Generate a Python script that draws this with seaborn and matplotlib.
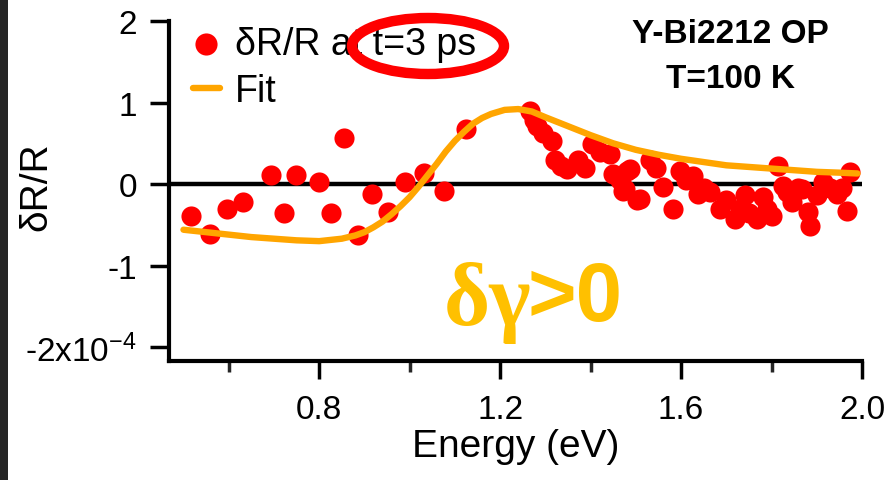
import matplotlib
matplotlib.use("Agg")
import matplotlib.pyplot as plt
from matplotlib.patches import Ellipse, Rectangle
import pandas as pd
import seaborn as sns

# --- data (units of 1e-4) ---
energy_pts = [0.516, 0.558, 0.596, 0.631, 0.694, 0.723, 0.748, 0.799, 0.826, 0.854,
              0.885, 0.917, 0.952, 0.990, 1.032, 1.077, 1.125,
              1.266, 1.274, 1.281, 1.295, 1.314, 1.322, 1.335, 1.347, 1.373, 1.388,
              1.403, 1.421, 1.443, 1.450, 1.465, 1.472, 1.480, 1.487, 1.476, 1.502,
              1.509, 1.531, 1.545, 1.560, 1.582, 1.598, 1.612, 1.627, 1.638, 1.650,
              1.664, 1.686, 1.700, 1.719, 1.730, 1.741, 1.750, 1.767, 1.782, 1.790,
              1.800, 1.814, 1.825, 1.835, 1.845, 1.858, 1.867, 1.881, 1.885, 1.900,
              1.914, 1.930, 1.944, 1.955, 1.966, 1.973]
dR_pts = [-0.39, -0.61, -0.31, -0.22, 0.11, -0.35, 0.11, 0.03, -0.36, 0.56,
          -0.63, -0.12, -0.34, 0.02, 0.14, -0.08, 0.68,
          0.90, 0.78, 0.71, 0.63, 0.53, 0.29, 0.22, 0.18, 0.29, 0.20,
          0.49, 0.39, 0.37, 0.12, 0.05, -0.08, 0.16, 0.18, -0.06, -0.20,
          -0.18, 0.29, 0.20, -0.04, -0.31, 0.16, 0.05, 0.10, -0.12, -0.05,
          -0.10, -0.31, -0.20, -0.43, -0.30, -0.14, -0.35, -0.43, -0.16, -0.30,
          -0.39, 0.22, -0.02, -0.10, -0.22, -0.05, -0.06, -0.34, -0.51, -0.14,
          0.02, -0.05, -0.12, -0.05, -0.33, 0.15]

energy_fit = [0.50, 0.55, 0.60, 0.65, 0.70, 0.75, 0.80, 0.85, 0.88, 0.90, 0.92,
              0.94, 0.96, 0.98, 1.00, 1.02, 1.04, 1.06, 1.08, 1.10, 1.12, 1.14,
              1.16, 1.18, 1.21, 1.24, 1.27, 1.30, 1.35, 1.40, 1.45, 1.50, 1.55,
              1.60, 1.65, 1.70, 1.75, 1.80, 1.85, 1.90, 1.95, 1.99]
dR_fit = [-0.56, -0.59, -0.62, -0.65, -0.67, -0.69, -0.70, -0.67, -0.63, -0.59, -0.53,
          -0.46, -0.37, -0.27, -0.16, -0.03, 0.11, 0.25, 0.40, 0.53, 0.64, 0.74,
          0.81, 0.86, 0.91, 0.92, 0.89, 0.82, 0.71, 0.60, 0.50, 0.42, 0.36,
          0.31, 0.27, 0.23, 0.21, 0.19, 0.17, 0.15, 0.14, 0.13]

x_major = [0.8, 1.2, 1.6, 2.0]
x_minor = [0.6, 1.0, 1.4, 1.8]
y_ticks = [-2, -1, 0, 1, 2]
y_labels = ["-2x10$^{-4}$", "-1", "0", "1", "2"]

df_pts = pd.DataFrame({"E": energy_pts, "dR": dR_pts})
df_fit = pd.DataFrame({"E": energy_fit, "dR": dR_fit})

sns.set_theme(style="white")
plt.rcParams["font.family"] = ["Liberation Sans", "DejaVu Sans"]
plt.rcParams["mathtext.fontset"] = "custom"
plt.rcParams["mathtext.rm"] = "Liberation Sans"
plt.rcParams["mathtext.it"] = "Liberation Sans"
plt.rcParams["text.color"] = "black"
plt.rcParams["axes.labelcolor"] = "black"

fig = plt.figure(figsize=(8.88, 4.81), dpi=100)
ax = fig.add_axes([169 / 888, 1 - 362 / 481, (862 - 169) / 888, (362 - 22) / 481])

ax.axhline(0, color="black", lw=3.2, zorder=1)
sns.scatterplot(data=df_pts, x="E", y="dR", ax=ax, color="#ff0000", s=210,
                linewidth=0, zorder=2, label="δR/R at t=3 ps")
sns.lineplot(data=df_fit, x="E", y="dR", ax=ax, color="#ffa500", lw=4.6,
             zorder=3, estimator=None, label="Fit")

ax.set_xlim(0.468, 2.0)
ax.set_ylim(-2.17, 2.0)
ax.set_xticks(x_major)
ax.set_xticks(x_minor, minor=True)
ax.set_xticklabels([f"{v:.1f}" for v in x_major])
ax.set_yticks(y_ticks)
ax.set_yticklabels(y_labels)

for s in ["top", "right"]:
    ax.spines[s].set_visible(False)
for s in ["left", "bottom"]:
    ax.spines[s].set_linewidth(3)
    ax.spines[s].set_color("black")

ax.tick_params(axis="y", which="major", direction="out", length=14, width=2.5,
               pad=9, labelsize=24, left=True, colors="black")
ax.tick_params(axis="x", which="major", direction="out", length=13, width=2.5,
               pad=11, labelsize=24, bottom=True, colors="black")
ax.tick_params(axis="x", which="minor", direction="out", length=8, width=2.5,
               bottom=True)

ax.set_xlabel("Energy (eV)", fontsize=28, labelpad=2)
ax.set_ylabel("δR/R", fontsize=28)
ax.yaxis.set_label_coords(-0.165, 0.515)

leg = ax.legend(loc="upper left", bbox_to_anchor=(0.035, 0.985), frameon=False,
                fontsize=27, handlelength=0.7, handletextpad=0.4,
                labelspacing=0.3, borderpad=0, borderaxespad=0, markerscale=1.1)

ax.text(0.81, 0.962, "Y-Bi2212 OP", transform=ax.transAxes, ha="center",
        va="center", fontsize=24, fontweight="bold")
ax.text(0.81, 0.832, "T=100 K", transform=ax.transAxes, ha="center",
        va="center", fontsize=24, fontweight="bold")

ax.text(0.523, 0.175, "δγ", transform=ax.transAxes, ha="right", va="center",
        fontsize=64, fontweight="bold", color="#ffc000",
        family=["Liberation Serif", "DejaVu Serif"])
ax.text(0.518, 0.185, ">0", transform=ax.transAxes, ha="left", va="center",
        fontsize=60, fontweight="bold", color="#ffc000")

# red hand-drawn style highlight around "t=3 ps"
fig.add_artist(Ellipse((4.28, 4.34), 1.52, 0.56, transform=fig.dpi_scale_trans,
                       fill=False, edgecolor="#ff0000", lw=7.5))
fig.add_artist(Rectangle((0, 0), 0.08, 4.81, transform=fig.dpi_scale_trans,
                         facecolor="#262626", edgecolor="none"))

fig.savefig("out.png", dpi=100)
